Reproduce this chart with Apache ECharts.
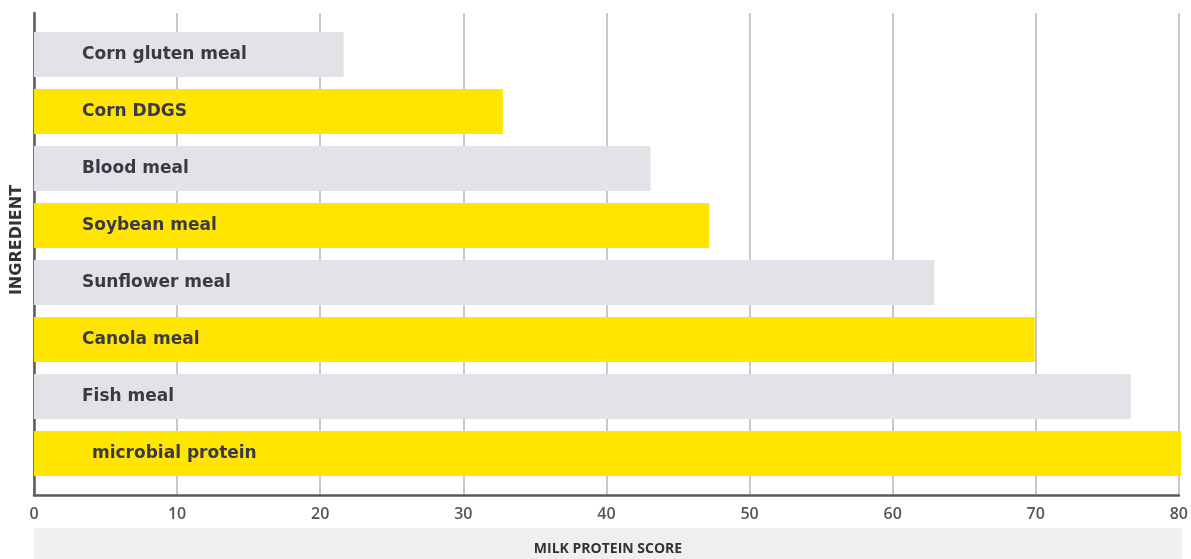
<!DOCTYPE html>
<html>
<head>
<meta charset="utf-8">
<script src="https://cdn.jsdelivr.net/npm/echarts@6/dist/echarts.min.js"></script>
<style>
  html, body { margin: 0; padding: 0; background: #ffffff; }
  #chart { width: 1191px; height: 559px; }
</style>
</head>
<body>
<div id="chart"></div>
<script>
// Ingredients, top to bottom
const ingredients = [
  'Corn gluten meal',
  'Corn DDGS',
  'Blood meal',
  'Soybean meal',
  'Sunflower meal',
  'Canola meal',
  'Fish meal',
  'microbial protein'
];
// Milk protein score per ingredient
const milkProteinScore = [21.6, 32.7, 43.0, 47.1, 62.8, 69.8, 76.5, 80];
// Score axis ticks
const scoreTicks = [0, 10, 20, 30, 40, 50, 60, 70, 80];

const GRAY = '#e1e3e6';
const YELLOW = '#ffe500';
const FONT = '"Open Sans", "DejaVu Sans", sans-serif';
const LABEL_FONT = '"DejaVu Sans", "Open Sans", sans-serif';

const chart = echarts.init(document.getElementById('chart'), null, { renderer: 'canvas' });

const barData = milkProteinScore.map((v, i) => ({
  value: v,
  itemStyle: { color: i % 2 === 0 ? GRAY : YELLOW },
  label: i === ingredients.length - 1 ? { distance: 58 } : undefined
}));

const option = {
  animation: false,
  backgroundColor: '#ffffff',
  grid: [
    // bars
    { left: 34, right: 10, top: 26, bottom: 77 },
    // frame: gridlines, axis lines and tick labels
    { left: 34, right: 10, top: 13, bottom: 64 }
  ],
  xAxis: [
    {
      gridIndex: 0, type: 'value',
      min: scoreTicks[0], max: scoreTicks[scoreTicks.length - 1], interval: 10,
      show: false
    },
    {
      gridIndex: 1, type: 'value',
      min: scoreTicks[0], max: scoreTicks[scoreTicks.length - 1], interval: 10,
      axisLine: { show: true, onZero: false, lineStyle: { color: '#5a5a5a', width: 2.5 } },
      axisTick: { show: false },
      axisLabel: {
        margin: 11, color: '#555555', fontSize: 16, fontWeight: 600, fontFamily: FONT,
        formatter: v => (scoreTicks.includes(v) ? String(v) : '')
      },
      splitLine: { show: true, lineStyle: { color: '#b3b6ba', width: 1.5 } }
    }
  ],
  yAxis: [
    {
      gridIndex: 0, type: 'category', data: ingredients, inverse: true,
      show: false
    },
    {
      gridIndex: 1, type: 'value', min: 0, max: 1,
      axisLine: { show: true, lineStyle: { color: '#5a5a5a', width: 2.5 } },
      axisTick: { show: false },
      axisLabel: { show: false },
      splitLine: { show: false }
    }
  ],
  graphic: [
    {
      type: 'rect',
      shape: { x: 34, y: 528, width: 1148, height: 31 },
      style: { fill: '#eeeff1' },
      z: 0
    },
    {
      type: 'text',
      x: 608, y: 549,
      style: {
        text: 'MILK PROTEIN SCORE',
        fill: '#333333',
        font: '700 14px ' + FONT,
        textAlign: 'center',
        textVerticalAlign: 'middle'
      },
      z: 1
    },
    {
      type: 'text',
      x: 17, y: 240,
      rotation: Math.PI / 2,
      style: {
        text: 'INGREDIENT',
        fill: '#333333',
        font: '700 16px ' + LABEL_FONT,
        textAlign: 'center',
        textVerticalAlign: 'middle'
      },
      z: 1
    }
  ],
  series: [
    {
      type: 'bar',
      xAxisIndex: 0,
      yAxisIndex: 0,
      data: barData,
      barWidth: 45,
      z: 3,
      label: {
        show: true,
        position: 'insideLeft',
        distance: 48,
        formatter: p => ingredients[p.dataIndex],
        color: '#3a3a46',
        fontSize: 17,
        fontWeight: 700,
        fontFamily: LABEL_FONT
      }
    }
  ]
};

chart.setOption(option);
</script>
</body>
</html>
